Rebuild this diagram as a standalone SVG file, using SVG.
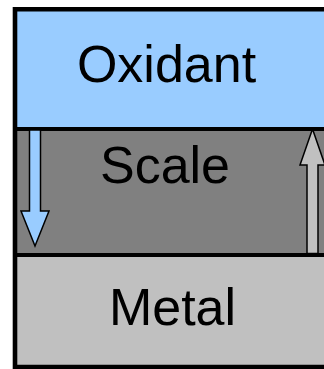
<svg xmlns="http://www.w3.org/2000/svg" width="324" height="369" viewBox="0 0 324 369">
  <style>
    .lbl { font-family: "Liberation Sans", Arial, sans-serif; font-size: 52px; fill: #000; text-anchor: middle; }
    .arrow { stroke: #000; stroke-width: 1.5; stroke-linejoin: miter; }
    .div { stroke: #000; stroke-width: 3.8; }
  </style>
  <rect x="0" y="0" width="324" height="369" fill="#fff"/>
  <g id="oxidant">
    <rect x="15" y="9" width="320" height="120" fill="#99ccff"/>
    <text class="lbl" x="166.5" y="82">Oxidant</text>
  </g>
  <g id="scale">
    <rect x="15" y="129" width="320" height="126" fill="#808080"/>
    <text class="lbl" x="165" y="183">Scale</text>
  </g>
  <g id="metal">
    <rect x="15" y="255" width="320" height="112" fill="#c0c0c0"/>
    <text class="lbl" x="172.5" y="325">Metal</text>
  </g>
  <g id="frame">
    <line class="div" x1="15" y1="129" x2="330" y2="129"/>
    <line class="div" x1="15" y1="255" x2="330" y2="255"/>
    <path d="M335,9.25 H15 V367 H335" fill="none" stroke="#000" stroke-width="4.6"/>
  </g>
  <g id="connectors">
    <polygon class="arrow" fill="#99ccff" points="29.5,130 40.5,130 40.5,211 49,211 35,246 21,211 29.5,211"/>
    <polygon class="arrow" fill="#c0c0c0" points="312.5,129 325,165 318,165 318,253.5 307,253.5 307,165 300,165"/>
  </g>
</svg>
